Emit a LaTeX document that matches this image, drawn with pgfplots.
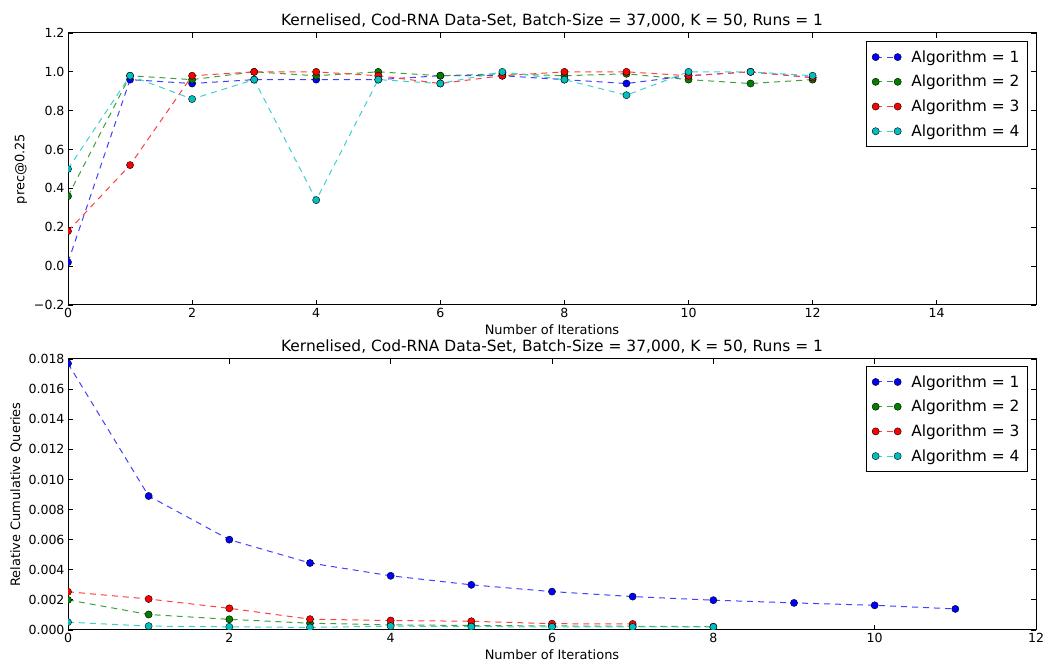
\documentclass[border=0pt]{standalone}
\usepackage{fontspec}
\setmainfont{DejaVu Sans}
\usepackage{pgfplots}
\pgfplotsset{compat=1.18}
\definecolor{mb}{rgb}{0,0,1}
\definecolor{mg}{rgb}{0,0.5,0}
\definecolor{mr}{rgb}{1,0,0}
\definecolor{mc}{rgb}{0,0.75,0.75}
\pgfplotsset{
  ser/.style={color=#1!75!white, line width=1bp, dash pattern=on 6bp off 5bp,
    mark=*, mark size=3.6bp, mark options={solid, draw=black, fill=#1, line width=0.4bp}},
  common/.style={
    scale only axis, width=968bp,
    axis line style={line width=1bp},
    tick style={black, line width=0.8bp},
    major tick length=5bp,
    tick align=inside,
    /pgf/number format/assume math mode=true,
    tick label style={font=\fontsize{12.6}{14}\selectfont},
    label style={font=\fontsize{13}{15}\selectfont},
    title style={font=\fontsize{15.5}{18}\selectfont, yshift=-3.5bp},
    clip marker paths=true,
    legend cell align=left,
    legend style={font=\fontsize{15.5}{18}\selectfont, draw=black, line width=1bp,
      anchor=north east, row sep=7.5bp, column sep=8bp, inner xsep=6bp, inner ysep=7bp},
    legend image code/.code={\draw[##1] plot coordinates {(0bp,0bp) (22bp,0bp)};},
  }
}
\pgfplotstableread{
x a1 a2 a3 a4
0 0.02 0.36 0.18 0.50
1 0.96 0.98 0.52 0.98
2 0.94 0.96 0.98 0.86
3 0.96 1.00 1.00 0.96
4 0.96 0.98 1.00 0.34
5 0.96 1.00 0.98 0.96
6 0.98 0.98 0.94 0.94
7 0.98 0.99 0.98 1.00
8 0.96 0.98 1.00 0.96
9 0.94 0.99 1.00 0.88
10 0.98 0.96 0.98 1.00
11 1.00 0.94 1.00 1.00
12 0.97 0.96 0.97 0.98
}\prec
\pgfplotstableread{
x y
0 0.0177
1 0.0089
2 0.0060
3 0.00445
4 0.0036
5 0.0030
6 0.00255
7 0.00222
8 0.00198
9 0.00180
10 0.00164
11 0.00140
}\qa
\pgfplotstableread{
x y
0 0.0020
1 0.00103
2 0.00071
3 0.00045
4 0.00034
5 0.00030
6 0.00027
7 0.00025
8 0.00022
}\qb
\pgfplotstableread{
x y
0 0.00254
1 0.00206
2 0.00144
3 0.00072
4 0.00063
5 0.00058
6 0.00042
7 0.00040
}\qc
\pgfplotstableread{
x y
0 0.00052
1 0.00026
2 0.00021
3 0.00017
4 0.00026
5 0.00022
6 0.00021
7 0.00020
8 0.00020
}\qd
\begin{document}
\begin{tikzpicture}
\path[use as bounding box] (0bp,0bp) rectangle (1044bp,668bp);
\begin{axis}[common, at={(68bp,363bp)}, anchor=south west, height=272bp,
  xmin=0, xmax=15.6, ymin=-0.2, ymax=1.2,
  xtick={0,2,...,14}, ytick={-0.2,0,0.2,0.4,0.6,0.8,1.0,1.2},
  yticklabels={−0.2,0.0,0.2,0.4,0.6,0.8,1.0,1.2},
  xlabel={Number of Iterations}, ylabel={prec@0.25},
  title={Kernelised, Cod-RNA Data-Set, Batch-Size = 37,000, K = 50, Runs = 1},
  legend style={at={(0.9917,0.9706)}}]
\addplot[ser=mb] table[x=x,y=a1] {\prec};
\addplot[ser=mg] table[x=x,y=a2] {\prec};
\addplot[ser=mr] table[x=x,y=a3] {\prec};
\addplot[ser=mc] table[x=x,y=a4] {\prec};
\legend{Algorithm = 1, Algorithm = 2, Algorithm = 3, Algorithm = 4}
\end{axis}
\begin{axis}[common, at={(68bp,38bp)}, anchor=south west, height=271bp,
  xmin=0, xmax=12, ymin=0, ymax=0.018,
  xtick={0,2,...,12}, ytick={0,0.002,...,0.0181},
  scaled y ticks=false,
  yticklabel style={/pgf/number format/.cd, fixed, fixed zerofill, precision=3},
  xlabel={Number of Iterations}, ylabel={Relative Cumulative Queries},
  title={Kernelised, Cod-RNA Data-Set, Batch-Size = 37,000, K = 50, Runs = 1},
  legend style={at={(0.9917,0.9746)}}]
\addplot[ser=mb] table {\qa};
\addplot[ser=mg] table {\qb};
\addplot[ser=mr] table {\qc};
\addplot[ser=mc] table {\qd};
\legend{Algorithm = 1, Algorithm = 2, Algorithm = 3, Algorithm = 4}
\end{axis}
\end{tikzpicture}
\end{document}
